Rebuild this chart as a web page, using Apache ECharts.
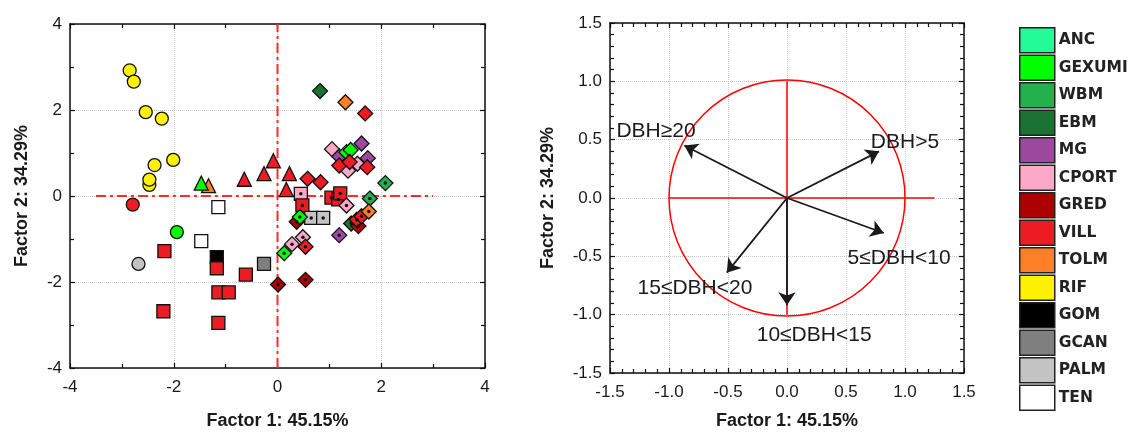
<!DOCTYPE html>
<html>
<head>
<meta charset="utf-8">
<script src="https://cdn.jsdelivr.net/npm/echarts@6/dist/echarts.min.js"></script>
<style>
  html, body { margin: 0; padding: 0; background: #fff; }
  #main { width: 1134px; height: 435px; }
</style>
</head>
<body>
<div id="main"></div>
<script>
// sites shown in the legend
const sites = ['ANC', 'GEXUMI', 'WBM', 'EBM', 'MG', 'CPORT', 'GRED', 'VILL', 'TOLM', 'RIF', 'GOM', 'GCAN', 'PALM', 'TEN']

// factor scores, [factor1, factor2, site, hasDot]
const circles = [
  [-2.85, 2.92, 'RIF', 0],
  [-2.77, 2.66, 'RIF', 0],
  [-2.54, 1.95, 'RIF', 0],
  [-2.23, 1.80, 'RIF', 0],
  [-2.01, 0.84, 'RIF', 0],
  [-2.37, 0.72, 'RIF', 0],
  [-2.47, 0.26, 'RIF', 0],
  [-2.47, 0.38, 'RIF', 0],
  [-2.79, -0.20, 'VILL', 0],
  [-1.94, -0.84, 'GEXUMI', 0],
  [-2.68, -1.58, 'PALM', 0]
]

const triangles = [
  [-0.08, 0.82, 'VILL', 0],
  [-0.26, 0.52, 'VILL', 0],
  [-0.64, 0.39, 'VILL', 0],
  [0.23, 0.52, 'VILL', 0],
  [0.17, 0.15, 'VILL', 0],
  [-1.33, 0.24, 'TOLM', 0],
  [-1.47, 0.30, 'GEXUMI', 0]
]

const squares = [
  [-1.14, -0.26, 'TEN', 0],
  [-1.47, -1.05, 'TEN', 0],
  [-1.17, -1.42, 'GOM', 0],
  [-1.17, -1.68, 'VILL', 0],
  [-2.18, -1.28, 'VILL', 0],
  [-2.20, -2.68, 'VILL', 0],
  [-1.14, -2.95, 'VILL', 0],
  [-1.14, -2.24, 'VILL', 0],
  [-0.94, -2.24, 'VILL', 0],
  [-0.61, -1.83, 'VILL', 0],
  [-0.26, -1.58, 'GCAN', 0],
  [0.45, 0.05, 'CPORT', 1],
  [0.48, -0.22, 'VILL', 1],
  [1.04, -0.04, 'VILL', 1],
  [1.17, -0.08, 'VILL', 1],
  [1.21, 0.06, 'VILL', 1],
  [0.65, -0.51, 'PALM', 1],
  [0.88, -0.51, 'PALM', 1]
]

const diamonds = [
  [0.82, 2.44, 'EBM', 0],
  [1.31, 2.18, 'TOLM', 0],
  [1.69, 1.92, 'VILL', 0],
  [1.05, 1.09, 'CPORT', 0],
  [1.62, 1.22, 'MG', 0],
  [1.19, 0.92, 'MG', 0],
  [1.74, 0.88, 'MG', 0],
  [1.33, 1.02, 'GEXUMI', 0],
  [1.41, 1.07, 'GEXUMI', 0],
  [1.36, 0.59, 'CPORT', 0],
  [1.54, 0.75, 'CPORT', 0],
  [1.19, 0.71, 'VILL', 0],
  [1.39, 0.79, 'VILL', 0],
  [1.73, 0.67, 'VILL', 0],
  [0.58, 0.40, 'VILL', 0],
  [0.83, 0.32, 'VILL', 0],
  [2.08, 0.30, 'WBM', 1],
  [1.78, -0.06, 'WBM', 1],
  [1.33, -0.22, 'CPORT', 1],
  [0.37, -0.60, 'GRED', 1],
  [0.43, -0.49, 'GEXUMI', 1],
  [1.42, -0.64, 'EBM', 1],
  [1.56, -0.70, 'GRED', 1],
  [1.53, -0.55, 'VILL', 1],
  [1.62, -0.47, 'VILL', 1],
  [1.76, -0.36, 'TOLM', 1],
  [1.19, -0.91, 'MG', 1],
  [0.28, -1.12, 'CPORT', 1],
  [0.49, -0.96, 'CPORT', 1],
  [0.54, -1.18, 'VILL', 1],
  [0.13, -1.33, 'GEXUMI', 1],
  [0.01, -2.06, 'GRED', 1],
  [0.54, -1.95, 'GRED', 1]
]

// variable loadings (correlation circle)
const loadingNames = ['DBH>5', 'DBH≥20', '5≤DBH<10', '15≤DBH<20', '10≤DBH<15']
const loadingX = [0.78, -0.87, 0.82, -0.51, 0.0]
const loadingY = [0.40, 0.45, -0.30, -0.64, -0.92]
const labelX = [1.0, -1.11, 0.95, -0.78, 0.23]
const labelY = [0.48, 0.57, -0.52, -0.77, -1.18]

const leftTicks = [-4, -2, 0, 2, 4]
const rightTicks = [-1.5, -1.0, -0.5, 0.0, 0.5, 1.0, 1.5]

const palette = {
  ANC: '#22fb96', GEXUMI: '#00ff00', WBM: '#22b14c', EBM: '#1b7233',
  MG: '#9c4a9f', CPORT: '#fca9c8', GRED: '#ad0000', VILL: '#ec1c24',
  TOLM: '#ff7f27', RIF: '#fff200', GOM: '#000000', GCAN: '#7f7f7f',
  PALM: '#c3c3c3', TEN: '#ffffff'
}

const chart = echarts.init(document.getElementById('main'))

const txt = '#1a1a1a'
const font = 'Liberation Sans, Arial, sans-serif'

const frameAxis = (grid, range, interval, minorSplit, pos, labels, extra) => Object.assign({
  type: 'value',
  gridIndex: grid,
  position: pos,
  min: range[0],
  max: range[range.length - 1],
  interval: interval,
  axisLine: { show: true, onZero: false, lineStyle: { color: '#111', width: 1.5 } },
  axisTick: { show: true, inside: true, length: 5, lineStyle: { color: '#111', width: 1.2 } },
  minorTick: { show: true, splitNumber: minorSplit, length: 4, lineStyle: { color: '#111', width: 1.2 } },
  splitLine: { show: labels, lineStyle: { color: '#c8c8c8', type: 'dotted', width: 1 } },
  axisLabel: { show: labels, fontFamily: font, fontSize: 17, color: txt },
  nameTextStyle: { fontFamily: font, fontSize: 18, fontWeight: 'bold', color: txt }
}, extra)

const ptItems = rows => rows.map(r => ({ value: [r[0], r[1]], itemStyle: { color: palette[r[2]] } }))
const dotItems = rows => rows.filter(r => r[3]).map(r => [r[0], r[1]])

const markerSeries = (rows, symbol, size) => ({
  type: 'scatter',
  xAxisIndex: 0,
  yAxisIndex: 0,
  symbol: symbol,
  symbolSize: size,
  z: 3,
  itemStyle: { borderColor: '#111', borderWidth: 1.3, opacity: 1 },
  data: ptItems(rows)
})

const oneDec = v => v.toFixed(1)
const refLine = { color: '#ff2a2a', width: 2, type: [10, 4, 3, 4] }

const option = {
  animation: false,
  backgroundColor: '#fff',
  grid: [
    { left: 70, top: 24, width: 415, height: 346 },
    { left: 610, top: 23, width: 354, height: 355 }
  ],
  xAxis: [
    frameAxis(0, leftTicks, 2, 2, 'bottom', true, { name: 'Factor 1: 45.15%', nameLocation: 'middle', nameGap: 44, axisLabel: { fontFamily: font, fontSize: 17, color: txt, margin: 11 } }),
    frameAxis(0, leftTicks, 2, 2, 'top', false),
    frameAxis(1, rightTicks, 0.5, 5, 'bottom', true, { name: 'Factor 1: 45.15%', nameLocation: 'middle', nameGap: 39, axisLabel: { fontFamily: font, fontSize: 17, color: txt, margin: 11, formatter: oneDec } }),
    frameAxis(1, rightTicks, 0.5, 5, 'top', false)
  ],
  yAxis: [
    frameAxis(0, leftTicks, 2, 2, 'left', true, { name: 'Factor 2: 34.29%', nameLocation: 'middle', nameGap: 39 }),
    frameAxis(0, leftTicks, 2, 2, 'right', false),
    frameAxis(1, rightTicks, 0.5, 5, 'left', true, { name: 'Factor 2: 34.29%', nameLocation: 'middle', nameGap: 53, axisLabel: { fontFamily: font, fontSize: 17, color: txt, formatter: oneDec } }),
    frameAxis(1, rightTicks, 0.5, 5, 'right', false)
  ],
  legend: {
    orient: 'vertical',
    left: 1014,
    top: 22,
    itemWidth: 35,
    itemHeight: 25,
    itemGap: 1,
    icon: 'rect',
    selectedMode: false,
    itemStyle: { borderColor: '#222', borderWidth: 1.5, opacity: 1 },
    textStyle: { fontFamily: 'DejaVu Sans, sans-serif', fontSize: 15.5, fontWeight: 'bold', color: '#222', padding: [0, 0, 0, -1] },
    data: sites
  },
  series: [
    // red reference lines through the origin
    {
      type: 'line', xAxisIndex: 0, yAxisIndex: 0, symbol: 'none', z: 1,
      lineStyle: refLine,
      data: [[0, -4], [0, 4]]
    },
    {
      type: 'line', xAxisIndex: 0, yAxisIndex: 0, symbol: 'none', z: 1,
      lineStyle: refLine,
      data: [[-3.5, 0], [3, 0]]
    },
    markerSeries(circles, 'circle', 13),
    markerSeries(triangles, 'triangle', 14),
    markerSeries(squares, 'rect', 13),
    markerSeries(diamonds, 'diamond', 15),
    {
      type: 'scatter', xAxisIndex: 0, yAxisIndex: 0, symbol: 'circle', symbolSize: 3.5, z: 4,
      itemStyle: { color: '#111', opacity: 1 },
      data: dotItems(squares.concat(diamonds))
    },
    // correlation circle
    {
      type: 'custom', xAxisIndex: 2, yAxisIndex: 2, z: 1,
      renderItem: (params, api) => {
        const c = api.coord([api.value(0), api.value(1)])
        const r = api.size([api.value(2), 0])[0]
        return { type: 'circle', shape: { cx: c[0], cy: c[1], r: r }, style: { fill: 'none', stroke: '#ff0000', lineWidth: 1.5 } }
      },
      data: [[0, 0, 1]]
    },
    {
      type: 'line', xAxisIndex: 2, yAxisIndex: 2, symbol: 'none', z: 1,
      lineStyle: { color: '#ff0000', width: 1.5 },
      data: [[-1, 0], [1.25, 0]]
    },
    {
      type: 'line', xAxisIndex: 2, yAxisIndex: 2, symbol: 'none', z: 1,
      lineStyle: { color: '#ff0000', width: 1.5 },
      data: [[0, -1], [0, 1]]
    },
    {
      type: 'lines', coordinateSystem: 'cartesian2d', xAxisIndex: 2, yAxisIndex: 2, z: 2,
      symbol: ['none', 'arrow'],
      symbolSize: 13,
      lineStyle: { color: '#1a1a1a', width: 1.8, opacity: 1 },
      data: loadingX.map((x, i) => ({ coords: [[0, 0], [x, loadingY[i]]] }))
    },
    {
      type: 'scatter', xAxisIndex: 2, yAxisIndex: 2, symbolSize: 0, z: 3,
      itemStyle: { opacity: 1 },
      label: {
        show: true, position: 'inside', formatter: p => p.name,
        fontFamily: font, fontSize: 21, color: '#1a1a1a', opacity: 1
      },
      data: loadingNames.map((n, i) => ({ name: n, value: [labelX[i], labelY[i]] }))
    }
  ].concat(sites.map(s => ({
    type: 'scatter', name: s, xAxisIndex: 0, yAxisIndex: 0, data: [],
    itemStyle: { color: palette[s], opacity: 1 }
  })))
}

chart.setOption(option)
</script>
</body>
</html>
